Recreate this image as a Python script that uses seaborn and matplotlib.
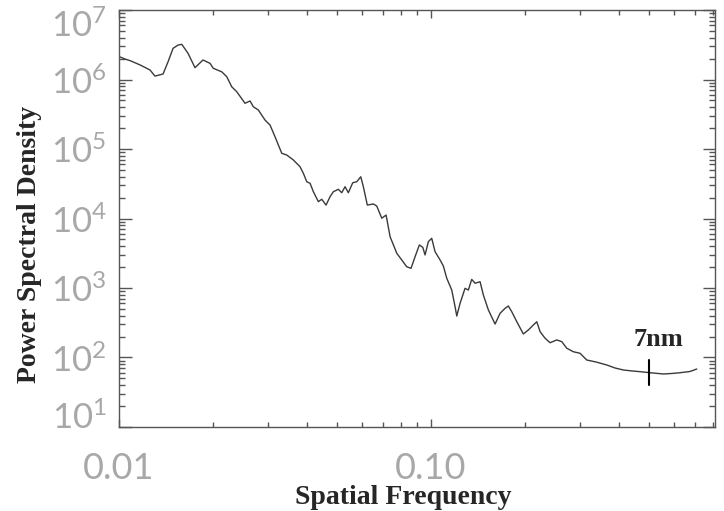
import numpy as np
import pandas as pd
import seaborn as sns
import matplotlib.pyplot as plt
from matplotlib.ticker import LogLocator, NullFormatter
from matplotlib.transforms import ScaledTranslation

# values
freq = [0.0100, 0.01045, 0.01085, 0.01168, 0.01257, 0.01304, 0.01384, 0.01436,
        0.0149, 0.01546, 0.01589, 0.01664, 0.01752, 0.01858, 0.01957, 0.02005,
        0.02134, 0.02214, 0.02297, 0.02384, 0.02534, 0.0263, 0.02694, 0.02796,
        0.02937, 0.03048, 0.03162, 0.03323, 0.03447, 0.0362, 0.03803, 0.03897,
        0.03996, 0.04095, 0.04196, 0.04353, 0.04464, 0.04608, 0.04746, 0.04863,
        0.05046, 0.05174, 0.05302, 0.05432, 0.05611, 0.0578, 0.05953, 0.06067,
        0.06249, 0.06533, 0.06699, 0.0695, 0.07177, 0.07392, 0.07765, 0.08056,
        0.08358, 0.08628, 0.08887, 0.09174, 0.09407, 0.09568, 0.09802, 0.1005,
        0.1030, 0.1069, 0.1095, 0.1123, 0.1165, 0.1194, 0.1209, 0.1239,
        0.1285, 0.1317, 0.1350, 0.1384, 0.1436, 0.1471, 0.1527, 0.1604,
        0.1664, 0.1727, 0.1769, 0.1814, 0.1883, 0.1976, 0.2051, 0.2128,
        0.2182, 0.2236, 0.2320, 0.2407, 0.2529, 0.2624, 0.2722, 0.2858,
        0.3003, 0.3155, 0.3380, 0.3657, 0.3888, 0.4133, 0.4408, 0.4677,
        0.5033, 0.5553, 0.5921, 0.6282, 0.6762, 0.7105]
psd = [2.14e6, 1.97e6, 1.87e6, 1.62e6, 1.37e6, 1.12e6, 1.20e6, 1.80e6,
       2.81e6, 3.13e6, 3.21e6, 2.38e6, 1.48e6, 1.91e6, 1.71e6, 1.45e6,
       1.29e6, 1.10e6, 7.87e5, 6.67e5, 4.55e5, 4.91e5, 4.06e5, 3.64e5,
       2.61e5, 2.21e5, 1.50e5, 8.67e4, 8.20e4, 6.95e4, 5.56e4, 4.47e4,
       3.38e4, 3.21e4, 2.43e4, 1.75e4, 1.89e4, 1.56e4, 2.06e4, 2.43e4,
       2.63e4, 2.35e4, 2.87e4, 2.35e4, 3.27e4, 3.38e4, 3.99e4, 2.87e4,
       1.56e4, 1.62e4, 1.51e4, 1.01e4, 1.12e4, 5.47e3, 3.16e3, 2.53e3,
       2.02e3, 1.92e3, 2.82e3, 4.16e3, 3.85e3, 2.99e3, 4.64e3, 5.19e3,
       3.33e3, 2.53e3, 2.07e3, 1.38e3, 935, 538, 395, 603,
       990, 935, 1.33e3, 1.17e3, 1.23e3, 793, 482, 303,
       432, 510, 551, 456, 327, 218, 249, 294,
       327, 235, 189, 163, 179, 169, 136, 121,
       115, 92.0, 86.1, 78.0, 70.6, 66.1, 64.0, 62.5,
       60.4, 57.9, 58.9, 60.4, 62.9, 68.3]

xtick_vals = [0.01, 0.1]
xtick_labels = ["0.01", "0.10"]
ytick_vals = [1e1, 1e2, 1e3, 1e4, 1e5, 1e6, 1e7]
ytick_labels = [r"$\mathregular{10^{%d}}$" % k for k in range(1, 8)]

marker_freq = [0.5, 0.5]
marker_psd = [40, 92]
marker_label = "7nm"

sns.set_style("ticks")
plt.rcParams["mathtext.default"] = "regular"

fig = plt.figure(figsize=(7.24, 5.11), dpi=100)
ax = fig.add_axes([0.1644, 0.1644, 0.8232, 0.816])

df = pd.DataFrame({"freq": freq, "psd": psd})
sns.lineplot(data=df, x="freq", y="psd", ax=ax, color="#3a3a3a",
             linewidth=1.0, estimator=None, sort=False)
ax.plot(marker_freq, marker_psd, color="black", linewidth=1.5)
ax.text(0.534, 184, marker_label, ha="center", va="center", fontsize=19,
        fontweight="bold", family="Liberation Serif")

ax.set_xscale("log")
ax.set_yscale("log")
ax.set_xlim(0.01, 0.813)
ax.set_ylim(10, 1e7)

ax.set_xticks(xtick_vals, xtick_labels)
ax.xaxis.set_minor_locator(LogLocator(base=10, subs=np.arange(2, 10), numticks=20))
ax.xaxis.set_minor_formatter(NullFormatter())
ax.set_yticks(ytick_vals, ytick_labels)
ax.yaxis.set_minor_locator(LogLocator(base=10, subs=np.arange(2, 10), numticks=20))
ax.yaxis.set_minor_formatter(NullFormatter())

ax.tick_params(which="both", direction="in", top=True, right=True,
               color="#555555", width=1)
ax.tick_params(axis="y", which="major", length=9, pad=9, labelsize=25,
               labelcolor="#a8a8a8")
ax.tick_params(axis="y", which="minor", length=4.5)
ax.tick_params(axis="x", which="major", length=6, pad=18, labelsize=26,
               labelcolor="#a8a8a8")
ax.tick_params(axis="x", which="minor", length=3.5)

for lbl in ax.get_xticklabels() + ax.get_yticklabels():
    lbl.set_fontfamily("Lato")
    lbl.set_fontweight("normal")

# end labels sit inside the axis range, like the original
ylbls = ax.get_yticklabels()
ylbls[-1].set_transform(ylbls[-1].get_transform() + ScaledTranslation(0, -0.13, fig.dpi_scale_trans))
ylbls[0].set_transform(ylbls[0].get_transform() + ScaledTranslation(0, 0.12, fig.dpi_scale_trans))

for sp in ax.spines.values():
    sp.set_color("#555555")
    sp.set_linewidth(1)

ax.set_xlabel("Spatial Frequency", fontsize=20, fontweight="bold",
              family="Liberation Serif")
ax.set_ylabel("Power Spectral Density", fontsize=20, fontweight="bold",
              family="Liberation Serif")
ax.xaxis.set_label_coords(0.477, -0.138)
ax.yaxis.set_label_coords(-0.129, 0.4376)

fig.savefig("out.png", dpi=100)
